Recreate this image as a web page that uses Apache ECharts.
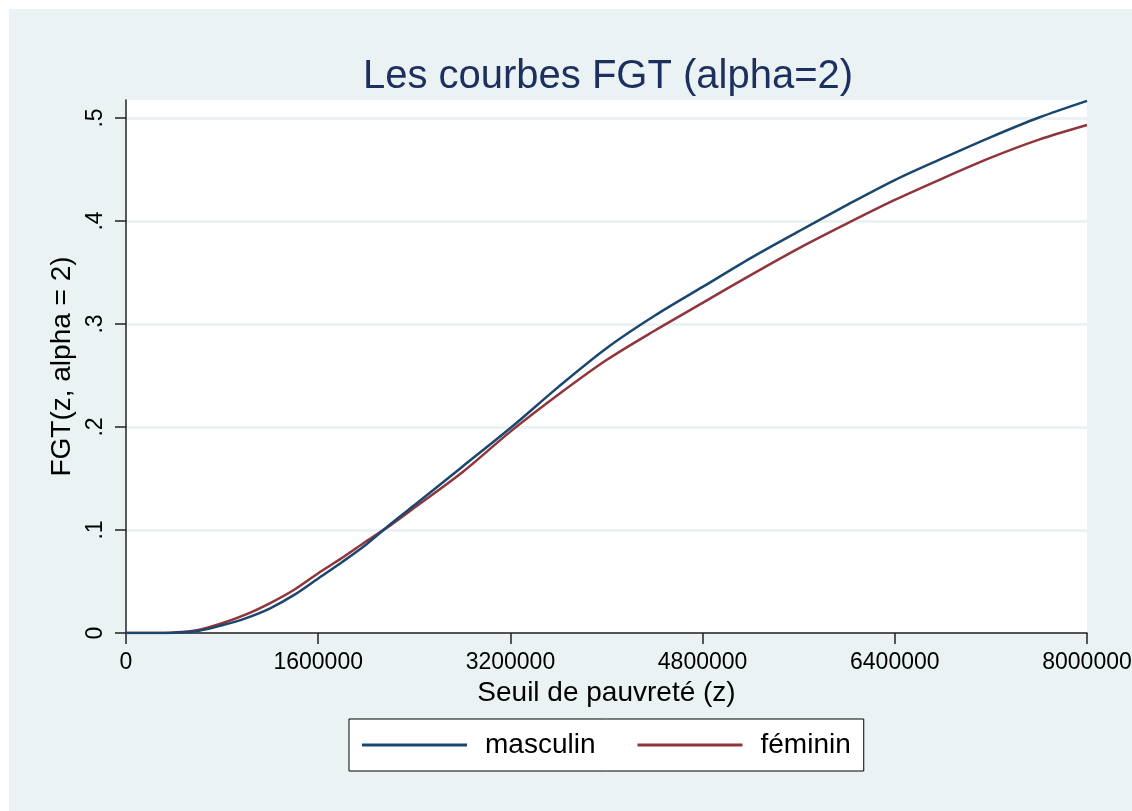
<!DOCTYPE html>
<html>
<head>
<meta charset="utf-8">
<script src="https://cdn.jsdelivr.net/npm/echarts@6/dist/echarts.min.js"></script>
<style>
  html, body { margin: 0; padding: 0; background: #ffffff; }
  #chart { position: absolute; left: 9px; top: 9px; width: 1123px; height: 802px; }
</style>
</head>
<body>
<div id="chart"></div>
<script>
// Data
const xValues = [0, 200000, 400000, 600000, 800000, 1000000, 1200000, 1400000, 1600000, 1800000,
  2000000, 2200000, 2400000, 2800000, 3200000, 3600000, 4000000, 4400000, 4800000, 5200000,
  5600000, 6000000, 6400000, 6800000, 7200000, 7600000, 8000000];
const masculin = [0, 0, 0.0003, 0.002, 0.0075, 0.0145, 0.024, 0.037, 0.053, 0.069,
  0.086, 0.1055, 0.124, 0.1615, 0.199, 0.239, 0.2765, 0.308, 0.336, 0.364,
  0.390, 0.4155, 0.4398, 0.461, 0.4815, 0.5005, 0.5167];
const feminin = [0, 0, 0.0005, 0.003, 0.0095, 0.018, 0.029, 0.042, 0.058, 0.073,
  0.089, 0.1045, 0.1215, 0.156, 0.1955, 0.2315, 0.265, 0.2935, 0.3205, 0.3475,
  0.3735, 0.3975, 0.4205, 0.4415, 0.4615, 0.479, 0.4932];
const xTicks = [0, 1600000, 3200000, 4800000, 6400000, 8000000];
const yTicks = [0, 0.1, 0.2, 0.3, 0.4, 0.5];
const yTickLabels = ['0', '.1', '.2', '.3', '.4', '.5'];
const seriesNames = ['masculin', 'féminin'];

const chart = echarts.init(document.getElementById('chart'), null, { renderer: 'canvas' });
const font = 'Liberation Sans, Arial, Helvetica, sans-serif';

function pairs(xs, ys) { return xs.map((x, i) => [x, ys[i]]); }

chart.setOption({
  backgroundColor: '#EAF2F3',
  animation: false,
  title: {
    text: 'Les courbes FGT (alpha=2)',
    left: 594,
    textAlign: 'center',
    top: 43,
    textStyle: { fontFamily: font, fontSize: 40, fontWeight: 'normal', color: '#1c2f5e' }
  },
  grid: { left: 117, top: 91, width: 961, height: 533, show: true, backgroundColor: '#ffffff', borderWidth: 0,
    containLabel: false, outerBoundsMode: 'none' },
  legend: {
    data: seriesNames,
    left: 340,
    top: 710,
    orient: 'horizontal',
    backgroundColor: '#ffffff',
    borderColor: '#000000',
    borderWidth: 1,
    borderRadius: 0,
    padding: [12, 13, 12, 13],
    itemGap: 42,
    itemWidth: 105,
    itemHeight: 3,
    icon: 'rect',
    textStyle: { fontFamily: font, fontSize: 28, color: '#000000', padding: [0, 0, 0, 13] }
  },
  xAxis: {
    type: 'value',
    min: 0,
    max: 8000000,
    interval: 1600000,
    name: 'Seuil de pauvreté (z)',
    nameLocation: 'middle',
    nameGap: 41,
    nameTextStyle: { fontFamily: font, fontSize: 28, color: '#000000' },
    axisLine: { show: true, lineStyle: { color: '#222222', width: 1.5 } },
    axisTick: { show: true, length: 11, lineStyle: { color: '#222222', width: 1.5 }, customValues: xTicks },
    axisLabel: { fontFamily: font, fontSize: 23, color: '#000000', margin: 18, customValues: xTicks,
      formatter: v => String(Math.round(v)) },
    splitLine: { show: false }
  },
  yAxis: {
    type: 'value',
    min: 0,
    max: 0.5175,
    interval: 0.1,
    name: 'FGT(z, alpha = 2)',
    nameLocation: 'middle',
    nameGap: 42,
    nameRotate: 90,
    nameTextStyle: { fontFamily: font, fontSize: 28, color: '#000000' },
    axisLine: { show: true, lineStyle: { color: '#222222', width: 1.5 } },
    axisTick: { show: true, length: 11, lineStyle: { color: '#222222', width: 1.5 }, customValues: yTicks },
    axisLabel: { fontFamily: font, fontSize: 23, color: '#000000', margin: 19, rotate: 90, customValues: yTicks,
      formatter: v => { const i = yTicks.findIndex(t => Math.abs(t - v) < 1e-6); return i >= 0 ? yTickLabels[i] : ''; } },
    splitLine: { show: true, lineStyle: { color: '#EAF2F3', width: 3 } }
  },
  series: [
    { name: seriesNames[0], type: 'line', data: pairs(xValues, masculin), smooth: 0.3, showSymbol: false, symbol: 'none',
      lineStyle: { color: '#1a476f', width: 2.5 }, itemStyle: { color: '#1a476f' }, z: 3 },
    { name: seriesNames[1], type: 'line', data: pairs(xValues, feminin), smooth: 0.3, showSymbol: false, symbol: 'none',
      lineStyle: { color: '#90353b', width: 2.5 }, itemStyle: { color: '#90353b' }, z: 2 }
  ]
});
</script>
</body>
</html>
